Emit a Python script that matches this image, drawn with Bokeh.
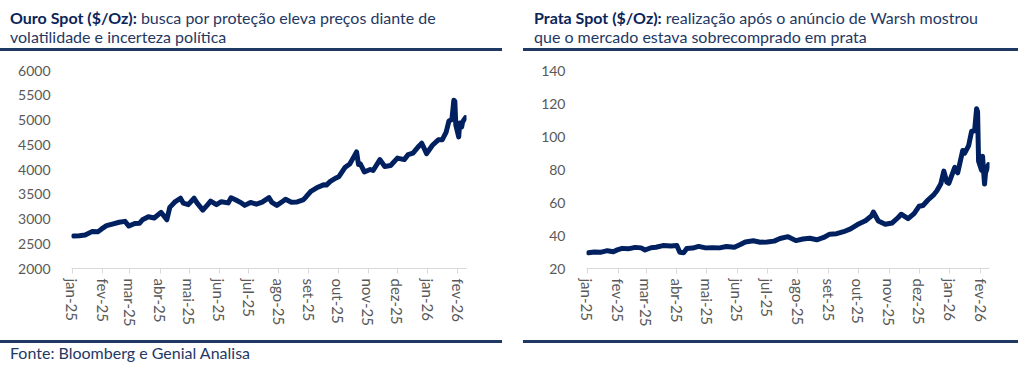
import pandas as pd
from bokeh.plotting import figure
from bokeh.models import Div, Range1d, FixedTicker
from bokeh.layouts import row, column, Spacer
from bokeh.embed import file_html
from bokeh.resources import INLINE

# ---------------- data ----------------
gold_dates = [
    "2025-01-02", "2025-01-08", "2025-01-14", "2025-01-21", "2025-01-27", "2025-01-31",
    "2025-02-05", "2025-02-11", "2025-02-18", "2025-02-24", "2025-02-28", "2025-03-06",
    "2025-03-11", "2025-03-14", "2025-03-20", "2025-03-26", "2025-04-02", "2025-04-08",
    "2025-04-11", "2025-04-16", "2025-04-22", "2025-04-25", "2025-04-30", "2025-05-06",
    "2025-05-09", "2025-05-15", "2025-05-20", "2025-05-23", "2025-05-29", "2025-06-03",
    "2025-06-10", "2025-06-13", "2025-06-18", "2025-06-24", "2025-06-27", "2025-07-03",
    "2025-07-09", "2025-07-15", "2025-07-22", "2025-07-25", "2025-07-30", "2025-08-06",
    "2025-08-08", "2025-08-14", "2025-08-20", "2025-08-26", "2025-08-29", "2025-09-03",
    "2025-09-09", "2025-09-16", "2025-09-19", "2025-09-23", "2025-09-29", "2025-10-02",
    "2025-10-08", "2025-10-13", "2025-10-17", "2025-10-20", "2025-10-22", "2025-10-24",
    "2025-10-28", "2025-11-03", "2025-11-06", "2025-11-13", "2025-11-18", "2025-11-24",
    "2025-12-01", "2025-12-08", "2025-12-12", "2025-12-17", "2025-12-23", "2025-12-26",
    "2025-12-31", "2026-01-06", "2026-01-12", "2026-01-16", "2026-01-20", "2026-01-23",
    "2026-01-26", "2026-01-28", "2026-01-29", "2026-01-30", "2026-02-02", "2026-02-03",
    "2026-02-05", "2026-02-06", "2026-02-09",
]
gold_values = [
    2658, 2662, 2675, 2745, 2740, 2800,
    2865, 2898, 2935, 2952, 2858, 2910,
    2915, 2985, 3045, 3020, 3135, 2985,
    3235, 3340, 3420, 3320, 3290, 3420,
    3325, 3180, 3290, 3360, 3290, 3350,
    3325, 3430, 3385, 3320, 3275, 3335,
    3300, 3340, 3430, 3335, 3275, 3370,
    3400, 3340, 3345, 3385, 3445, 3560,
    3630, 3690, 3685, 3760, 3830, 3860,
    4040, 4110, 4250, 4355, 4100, 4110,
    3950, 4000, 3980, 4200, 4060, 4080,
    4230, 4200, 4300, 4330, 4470, 4530,
    4320, 4490, 4600, 4600, 4750, 4980,
    5010, 5400, 5380, 4900, 4660, 4940,
    4860, 4960, 5050,
]

silver_dates = [
    "2025-01-02", "2025-01-08", "2025-01-14", "2025-01-21", "2025-01-27", "2025-01-31",
    "2025-02-05", "2025-02-11", "2025-02-18", "2025-02-24", "2025-02-28", "2025-03-06",
    "2025-03-11", "2025-03-18", "2025-03-26", "2025-04-01", "2025-04-04", "2025-04-08",
    "2025-04-11", "2025-04-17", "2025-04-23", "2025-04-30", "2025-05-07", "2025-05-14",
    "2025-05-21", "2025-05-29", "2025-06-04", "2025-06-09", "2025-06-17", "2025-06-24",
    "2025-07-01", "2025-07-08", "2025-07-14", "2025-07-22", "2025-07-30", "2025-08-06",
    "2025-08-13", "2025-08-20", "2025-08-27", "2025-09-02", "2025-09-09", "2025-09-16",
    "2025-09-23", "2025-09-30", "2025-10-08", "2025-10-14", "2025-10-16", "2025-10-21",
    "2025-10-28", "2025-11-04", "2025-11-10", "2025-11-13", "2025-11-20", "2025-11-26",
    "2025-12-01", "2025-12-05", "2025-12-10", "2025-12-16", "2025-12-19", "2025-12-23",
    "2025-12-26", "2025-12-29", "2025-12-31", "2026-01-06", "2026-01-09", "2026-01-14",
    "2026-01-16", "2026-01-20", "2026-01-23", "2026-01-26", "2026-01-28", "2026-01-29",
    "2026-01-30", "2026-02-02", "2026-02-03", "2026-02-05", "2026-02-06", "2026-02-09",
]
silver_values = [
    29.5, 30.0, 29.8, 30.8, 30.2, 31.3,
    32.2, 31.9, 32.8, 32.5, 31.2, 32.6,
    32.9, 33.9, 33.6, 33.9, 29.8, 29.6,
    32.1, 32.4, 33.4, 32.5, 32.6, 32.5,
    33.3, 32.9, 34.5, 36.1, 36.8, 35.9,
    36.1, 36.6, 38.2, 39.3, 36.9, 37.9,
    38.3, 37.4, 38.8, 40.8, 41.1, 42.3,
    44.0, 46.6, 48.9, 51.8, 54.2, 48.8,
    46.8, 47.6, 50.9, 52.9, 50.2, 53.3,
    57.7, 58.2, 61.5, 64.8, 67.1, 71.4,
    79.0, 72.3, 71.6, 81.3, 78.0, 91.5,
    89.9, 94.5, 103.2, 103.5, 116.8, 115.0,
    85.0, 79.5, 88.0, 71.2, 78.0, 83.0,
]

month_labels = ["jan-25", "fev-25", "mar-25", "abr-25", "mai-25", "jun-25", "jul-25",
                "ago-25", "set-25", "out-25", "nov-25", "dez-25", "jan-26", "fev-26"]
month_starts = ["2025-01-01", "2025-02-01", "2025-03-01", "2025-04-01", "2025-05-01",
                "2025-06-01", "2025-07-01", "2025-08-01", "2025-09-01", "2025-10-01",
                "2025-11-01", "2025-12-01", "2026-01-01", "2026-02-01"]
gold_ticks = [2000, 2500, 3000, 3500, 4000, 4500, 5000, 5500, 6000]
silver_ticks = [20, 40, 60, 80, 100, 120, 140]

title_gold_bold = "Ouro Spot ($/Oz):"
title_gold_1 = " busca por proteção eleva preços diante de"
title_gold_2 = "volatilidade e incerteza política"
title_silver_bold = "Prata Spot ($/Oz):"
title_silver_1 = " realização após o anúncio de Warsh mostrou"
title_silver_2 = "que o mercado estava sobrecomprado em prata"
source_text = "Fonte: Bloomberg e Genial Analisa"

# ---------------- helpers ----------------
BASE = pd.Timestamp("2025-01-01")
NAVY = "#002060"
RULE = "#1f3864"
FONT = "Lato"


def to_days(dates):
    return [int((pd.Timestamp(d) - BASE).days) for d in dates]


tick_days = to_days(month_starts)
overrides = {d: lab for d, lab in zip(tick_days, month_labels)}


def make_fig(xd, yv, yticks, width, bl, br):
    p = figure(width=width, height=282, output_backend="svg", toolbar_location=None,
               x_range=Range1d(-1, 405), y_range=Range1d(yticks[0], yticks[-1]),
               min_border_left=bl, min_border_right=br, min_border_top=19,
               min_border_bottom=65)
    p.outline_line_color = None
    p.xgrid.grid_line_color = None
    p.ygrid.grid_line_color = None
    p.background_fill_color = "white"
    p.border_fill_color = "white"
    p.line(xd, yv, line_color=NAVY, line_width=5, line_join="round", line_cap="round")

    ya = p.yaxis[0]
    ya.ticker = FixedTicker(ticks=yticks)
    ya.axis_line_color = None
    ya.major_tick_line_color = None
    ya.minor_tick_line_color = None
    ya.major_label_text_font = FONT
    ya.major_label_text_font_size = "14px"
    ya.major_label_text_color = "#595959"
    ya.major_label_standoff = 15

    xa = p.xaxis[0]
    xa.ticker = FixedTicker(ticks=tick_days)
    xa.major_label_overrides = overrides
    xa.major_label_orientation = "vertical"
    xa.axis_line_color = "#d9d9d9"
    xa.major_tick_line_color = "#d9d9d9"
    xa.major_tick_out = 5
    xa.major_tick_in = 0
    xa.minor_tick_line_color = None
    xa.major_label_text_font = FONT
    xa.major_label_text_font_size = "15px"
    xa.major_label_text_color = "#595959"
    xa.major_label_standoff = 5
    return p


def title_div(bold, l1, l2, width, pad):
    html = (f'<div style="width:{width - pad}px;font-family:{FONT};font-size:16px;'
            f'line-height:19px;color:{RULE};white-space:nowrap;padding:8px 0 0 {pad}px;'
            f'height:40px;box-sizing:content-box;border-bottom:3px solid {RULE};">'
            f'<b style="color:#0b2559">{bold}</b>{l1}<br>{l2}</div>')
    return Div(text=html, width=width, height=51, margin=0)


def footer_div(text, width, pad):
    html = (f'<div style="width:{width - pad}px;margin-top:7px;border-top:3px solid {RULE};'
            f'padding:1px 0 0 {pad}px;font-family:{FONT};font-size:16px;line-height:18px;'
            f'color:{RULE};white-space:nowrap;box-sizing:content-box;">{text}</div>')
    return Div(text=html, width=width, height=34, margin=0)


pg = make_fig(to_days(gold_dates), gold_values, gold_ticks, 502, 71, 36)
ps = make_fig(to_days(silver_dates), silver_values, silver_ticks, 495, 63, 29)

left = column(title_div(title_gold_bold, title_gold_1, title_gold_2, 502, 10), pg,
              footer_div(source_text, 502, 10), spacing=0)
right = column(title_div(title_silver_bold, title_silver_1, title_silver_2, 495, 11), ps,
               footer_div("&nbsp;", 495, 11), spacing=0)
layout = row(left, Spacer(width=21, height=10), right, spacing=0)

open("out.html", "w").write(file_html(layout, INLINE))
